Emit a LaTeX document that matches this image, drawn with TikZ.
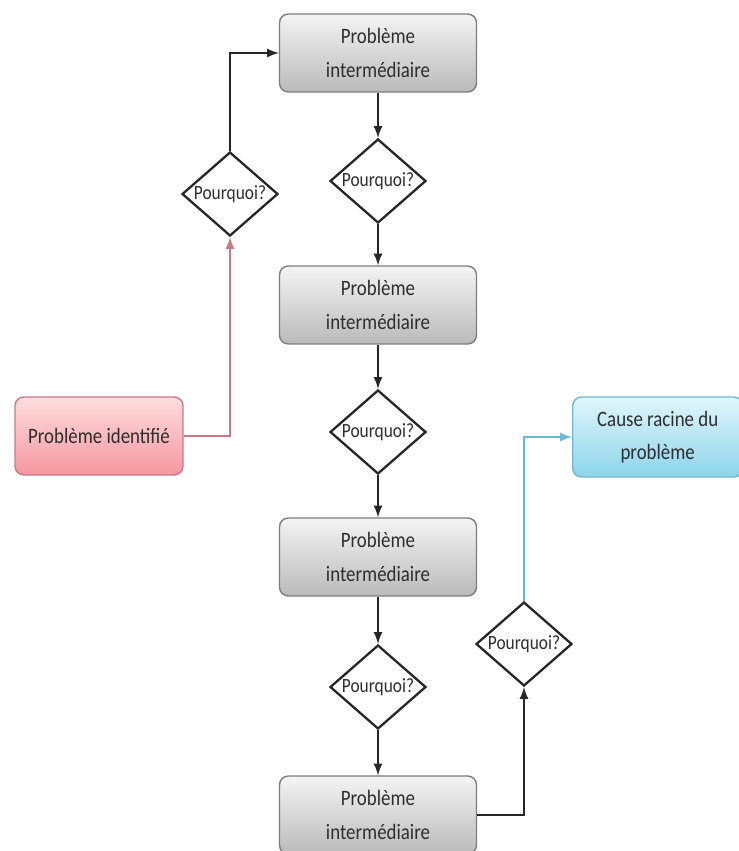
\documentclass[tikz,border=0pt]{standalone}
\usepackage{fontspec}
\setmainfont[FakeStretch=0.86]{Carlito}
\usepackage{tikz}
\usetikzlibrary{shapes.geometric}

\definecolor{boxtop}{RGB}{244,244,244}
\definecolor{boxbot}{RGB}{186,186,186}
\definecolor{boxline}{RGB}{125,125,125}
\definecolor{redtop}{RGB}{255,222,222}
\definecolor{redbot}{RGB}{246,150,160}
\definecolor{redline}{RGB}{200,120,135}
\definecolor{bluetop}{RGB}{225,246,252}
\definecolor{bluebot}{RGB}{140,212,234}
\definecolor{blueline}{RGB}{110,185,208}

\tikzset{
	probbox/.style={rectangle, rounded corners=5pt, draw=boxline, thick, top color=boxtop, bottom color=boxbot,
		minimum width=3.94cm, minimum height=1.56cm, align=center, font=\fontsize{12.5}{19}\selectfont, text=black!82},
	identbox/.style={probbox, draw=redline, top color=redtop, bottom color=redbot, minimum width=3.36cm},
	rootbox/.style={probbox, draw=blueline, top color=bluetop, bottom color=bluebot, minimum width=3.4cm, minimum height=1.6cm},
	whybox/.style={diamond, draw=black!85, line width=1.3pt, fill=white, inner sep=0pt, aspect=1.14,
		minimum width=1.92cm, minimum height=1.68cm, font=\fontsize{11.5}{13}\selectfont, text=black!82},
	link/.style={->, >=latex, line width=1.3pt, black!85},
}

\begin{document}
\begin{tikzpicture}[x=0.02cm, y=-0.02cm]
		\useasboundingbox (0, 0) rectangle (738, 851);
		% main column
		\node[probbox] (b1) at (378, 53) {Problème\\intermédiaire};
		\node[whybox] (d2) at (378, 181) {Pourquoi?};
		\node[probbox] (b2) at (378, 305) {Problème\\intermédiaire};
		\node[whybox] (d3) at (378, 432) {Pourquoi?};
		\node[probbox] (b3) at (378, 557) {Problème\\intermédiaire};
		\node[whybox] (d4) at (378, 687) {Pourquoi?};
		\node[probbox] (b4) at (378, 815) {Problème\\intermédiaire};
		% start and end
		\node[identbox] (ident) at (99, 436) {Problème identifié};
		\node[whybox] (d1) at (230, 194) {Pourquoi?};
		\node[whybox] (d5) at (524, 644) {Pourquoi?};
		\node[rootbox, anchor=west] (root) at (572, 437) {Cause racine du\\problème};
		% connectors
		\draw[link, redline] (ident.east) -| (d1.south);
		\draw[link] (d1.north) |- (b1.west);
		\draw[link] (b1.south) -- (d2.north);
		\draw[link] (d2.south) -- (b2.north);
		\draw[link] (b2.south) -- (d3.north);
		\draw[link] (d3.south) -- (b3.north);
		\draw[link] (b3.south) -- (d4.north);
		\draw[link] (d4.south) -- (b4.north);
		\draw[link] (b4.east) -| (d5.south);
		\draw[link, blueline] (d5.north) |- (root.west);
		\end{tikzpicture}
\end{document}
